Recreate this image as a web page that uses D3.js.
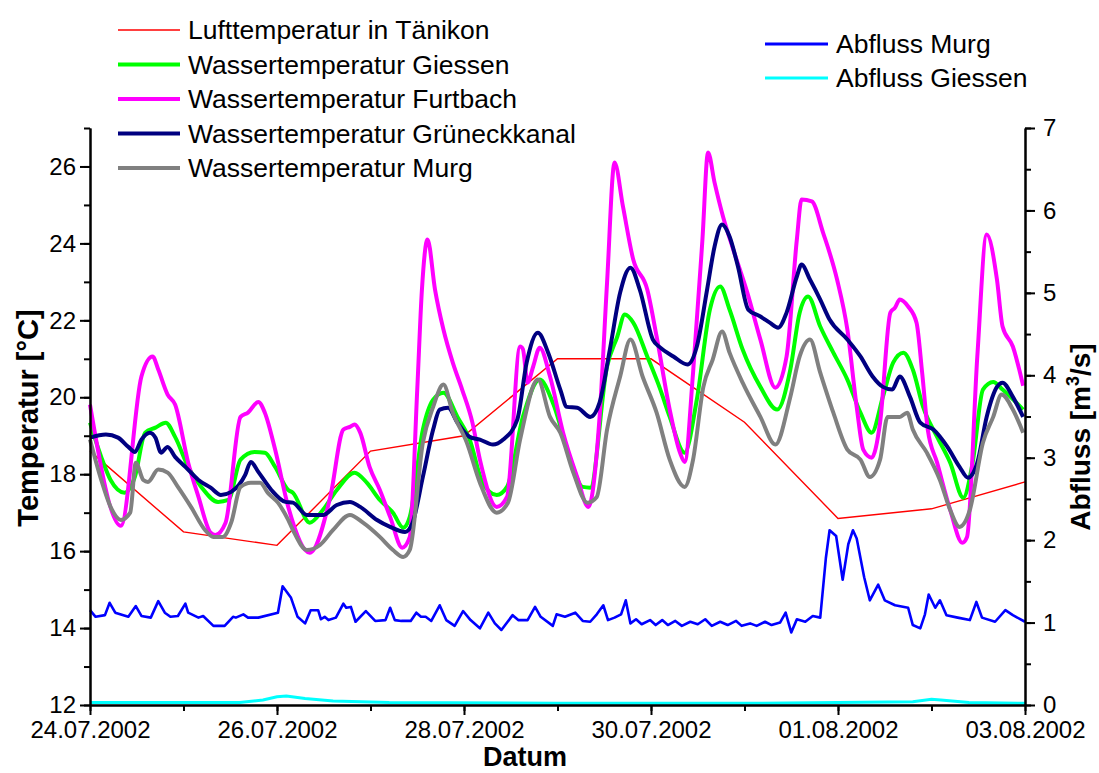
<!DOCTYPE html>
<html>
<head>
<meta charset="utf-8">
<script src="https://cdn.jsdelivr.net/npm/d3@7"></script>
<style>
  body { margin: 0; background: #fff; }
  svg { font-family: "Liberation Sans", Arial, sans-serif; }
</style>
</head>
<body>
<svg id="chart" width="1099" height="773"></svg>
<script>
// days after 24.07.2002 00:00, value
var luftTaenikon = [[0,18.6],[1,16.5],[2,16.15],[3,18.6],[4,19.0],[5,21.0],[6,21.0],[7,19.35],[8,16.85],[9,17.1],[10,17.8]];

var wtGiessen = [[0,19.34],[0.12,18.45],[0.22,17.85],[0.37,17.52],[0.48,17.93],[0.59,19.08],[0.7,19.21],[0.81,19.34],[0.91,18.97],[1.05,18.19],[1.19,17.67],[1.37,17.28],[1.48,17.33],[1.61,18.38],[1.76,18.58],[1.87,18.56],[1.98,18.19],[2.12,17.59],[2.17,17.52],[2.35,16.74],[2.49,17.07],[2.64,17.59],[2.83,18.04],[2.96,17.78],[3.1,17.33],[3.24,17.0],[3.35,16.61],[3.42,16.89],[3.56,19.16],[3.67,19.94],[3.78,20.12],[3.93,19.49],[4.06,18.9],[4.2,17.78],[4.35,17.46],[4.46,17.67],[4.63,19.49],[4.81,20.46],[4.95,19.86],[5.13,18.45],[5.27,17.67],[5.35,17.65],[5.53,20.8],[5.64,21.58],[5.72,22.15],[5.81,21.94],[5.96,21.06],[6.1,20.2],[6.2,19.49],[6.36,18.56],[6.49,19.94],[6.63,22.28],[6.74,22.88],[6.84,22.28],[6.98,21.24],[7.17,20.27],[7.35,19.68],[7.49,20.72],[7.59,22.2],[7.68,22.62],[7.81,21.84],[7.95,21.16],[8.1,20.46],[8.24,19.6],[8.36,19.08],[8.48,20.01],[8.59,20.9],[8.7,21.16],[8.8,20.72],[8.91,19.75],[9.06,18.97],[9.2,18.3],[9.34,17.39],[9.44,18.3],[9.55,20.2],[9.66,20.4],[9.76,20.2],[9.98,19.68]];

var wtFurtbach = [[0,19.81],[0.33,16.66],[0.55,20.54],[0.67,21.06],[0.73,20.72],[0.83,20.07],[0.91,19.81],[1.05,18.3],[1.16,17.41],[1.29,16.48],[1.34,16.42],[1.45,16.74],[1.61,19.49],[1.69,19.6],[1.8,19.88],[1.87,19.6],[1.98,18.64],[2.12,17.15],[2.35,15.96],[2.57,17.41],[2.71,19.16],[2.78,19.23],[2.83,19.29],[2.89,19.08],[2.99,18.19],[3.1,17.59],[3.21,16.89],[3.34,16.09],[3.42,16.37],[3.5,20.2],[3.55,22.8],[3.61,24.1],[3.69,22.8],[3.78,21.76],[3.88,20.9],[3.98,20.2],[4.09,19.34],[4.17,18.38],[4.35,17.15],[4.46,17.41],[4.6,21.32],[4.63,21.25],[4.68,20.38],[4.74,20.8],[4.81,21.29],[4.92,20.54],[5.06,19.08],[5.21,17.93],[5.33,17.15],[5.45,19.49],[5.53,22.98],[5.61,26.1],[5.7,24.96],[5.81,23.58],[5.96,22.8],[6.06,21.58],[6.2,19.68],[6.31,18.56],[6.36,18.32],[6.45,20.64],[6.55,24.1],[6.61,26.36],[6.68,25.58],[6.77,24.7],[6.88,23.84],[7.03,22.72],[7.17,21.5],[7.33,20.25],[7.45,21.06],[7.56,24.1],[7.61,25.14],[7.72,25.09],[7.84,24.28],[7.99,23.06],[8.1,21.76],[8.2,19.75],[8.27,18.64],[8.36,18.43],[8.45,19.34],[8.56,22.2],[8.61,22.33],[8.66,22.54],[8.75,22.36],[8.84,21.94],[8.9,20.64],[8.96,19.16],[9.06,18.3],[9.2,17.07],[9.33,16.22],[9.38,16.37],[9.49,21.06],[9.59,24.23],[9.7,23.06],[9.76,21.84],[9.87,21.32],[9.98,20.3]];

var wtGrueneck = [[0,18.95],[0.17,19.03],[0.3,18.95],[0.41,18.71],[0.48,18.58],[0.55,18.9],[0.64,19.08],[0.7,18.95],[0.76,18.56],[0.83,18.71],[0.91,18.45],[1.02,18.19],[1.16,17.85],[1.29,17.65],[1.4,17.46],[1.51,17.54],[1.66,17.98],[1.72,18.32],[1.8,18.06],[1.94,17.59],[2.09,17.28],[2.17,17.26],[2.32,16.94],[2.49,16.94],[2.64,17.2],[2.78,17.28],[2.89,17.15],[3.07,16.81],[3.21,16.63],[3.37,16.5],[3.45,16.74],[3.56,17.93],[3.67,19.16],[3.74,19.68],[3.83,19.73],[3.93,19.34],[4.06,18.97],[4.17,18.9],[4.31,18.77],[4.42,18.9],[4.57,19.42],[4.67,20.9],[4.79,21.68],[4.9,21.16],[5.03,20.2],[5.1,19.75],[5.21,19.73],[5.35,19.49],[5.45,19.86],[5.56,21.24],[5.67,22.72],[5.78,23.37],[5.88,22.8],[6.02,21.5],[6.1,21.29],[6.24,21.06],[6.39,20.85],[6.49,21.32],[6.6,22.8],[6.68,23.92],[6.76,24.49],[6.84,24.18],[6.93,23.4],[7.04,22.28],[7.17,22.1],[7.27,21.94],[7.36,21.81],[7.45,22.2],[7.56,23.14],[7.61,23.45],[7.7,23.06],[7.81,22.54],[7.91,22.02],[8.1,21.5],[8.24,21.06],[8.37,20.54],[8.48,20.27],[8.58,20.2],[8.66,20.54],[8.77,20.01],[8.88,19.34],[9.02,19.16],[9.17,18.71],[9.3,18.19],[9.39,17.91],[9.49,18.3],[9.59,19.49],[9.7,20.27],[9.76,20.38],[9.87,20.01],[9.98,19.49]];

var wtMurg = [[0,18.9],[0.12,17.85],[0.22,17.15],[0.33,16.81],[0.43,17.0],[0.49,18.3],[0.57,17.85],[0.62,17.8],[0.73,18.12],[0.83,18.04],[0.94,17.67],[1.08,17.15],[1.23,16.55],[1.32,16.37],[1.42,16.37],[1.51,16.74],[1.61,17.67],[1.72,17.78],[1.82,17.78],[1.9,17.52],[2.01,17.26],[2.12,16.81],[2.17,16.55],[2.32,16.03],[2.46,16.16],[2.6,16.55],[2.78,16.94],[2.92,16.74],[3.1,16.37],[3.24,16.03],[3.35,15.85],[3.42,16.03],[3.56,18.82],[3.67,19.75],[3.78,20.33],[3.88,19.6],[4.03,18.82],[4.17,17.78],[4.35,17.0],[4.47,17.26],[4.6,18.9],[4.79,20.46],[4.92,19.49],[5.03,19.08],[5.17,18.04],[5.32,17.26],[5.42,17.41],[5.53,19.16],[5.67,20.54],[5.78,21.5],[5.91,20.54],[6.06,19.6],[6.2,18.38],[6.36,17.67],[6.45,18.38],[6.56,20.27],[6.66,20.98],[6.76,21.71],[6.84,21.16],[6.98,20.38],[7.17,19.49],[7.33,18.77],[7.49,20.01],[7.59,21.06],[7.7,21.5],[7.81,20.64],[7.95,19.6],[8.1,18.64],[8.24,18.38],[8.34,17.93],[8.45,18.38],[8.53,19.49],[8.66,19.49],[8.74,19.6],[8.8,19.16],[8.95,18.56],[9.09,17.85],[9.2,17.07],[9.3,16.63],[9.41,17.07],[9.55,18.82],[9.66,19.49],[9.75,20.07],[9.87,19.68],[9.98,19.08]];

var abflussMurg = [[0,1.15],[0.06,1.07],[0.16,1.09],[0.21,1.24],[0.27,1.12],[0.41,1.07],[0.49,1.2],[0.55,1.08],[0.65,1.06],[0.73,1.26],[0.8,1.12],[0.86,1.07],[0.94,1.08],[1.02,1.23],[1.05,1.12],[1.16,1.06],[1.21,1.08],[1.32,0.96],[1.44,0.96],[1.53,1.07],[1.56,1.06],[1.64,1.1],[1.69,1.06],[1.8,1.06],[2.01,1.12],[2.06,1.44],[2.15,1.3],[2.22,1.07],[2.3,0.99],[2.36,1.15],[2.44,1.15],[2.47,1.04],[2.51,1.07],[2.55,1.03],[2.63,1.06],[2.71,1.23],[2.74,1.18],[2.79,1.19],[2.84,1.01],[2.95,1.14],[3.05,1.02],[3.16,1.03],[3.21,1.18],[3.26,1.03],[3.33,1.02],[3.43,1.02],[3.49,1.12],[3.54,1.07],[3.59,1.07],[3.65,1.02],[3.74,1.21],[3.81,1.03],[3.9,0.96],[3.99,1.14],[4.07,1.03],[4.17,0.93],[4.26,1.12],[4.33,0.99],[4.4,0.91],[4.52,1.09],[4.58,1.03],[4.68,1.03],[4.76,1.19],[4.82,1.07],[4.95,0.96],[4.99,1.1],[5.08,1.07],[5.19,1.12],[5.27,1.02],[5.35,1.01],[5.42,1.1],[5.49,1.21],[5.54,1.03],[5.61,1.06],[5.68,1.1],[5.73,1.27],[5.78,0.99],[5.84,1.04],[5.9,0.98],[5.99,1.03],[6.05,0.97],[6.12,1.03],[6.18,0.97],[6.26,1.02],[6.33,0.96],[6.42,1.01],[6.5,0.98],[6.58,1.04],[6.65,0.96],[6.74,1.01],[6.82,0.97],[6.91,1.02],[6.97,0.96],[7.06,0.99],[7.13,0.96],[7.22,1.01],[7.29,0.97],[7.38,1.0],[7.44,1.12],[7.5,0.88],[7.56,1.04],[7.65,1.01],[7.73,1.08],[7.81,1.06],[7.87,1.78],[7.91,2.12],[7.98,2.05],[8.05,1.52],[8.11,1.95],[8.16,2.12],[8.2,2.02],[8.28,1.55],[8.34,1.27],[8.43,1.46],[8.5,1.27],[8.61,1.21],[8.75,1.18],[8.8,0.97],[8.88,0.93],[8.93,1.1],[8.97,1.34],[9.04,1.18],[9.09,1.27],[9.16,1.09],[9.28,1.06],[9.41,1.03],[9.48,1.25],[9.54,1.06],[9.68,1.01],[9.79,1.15],[9.87,1.09],[10,1.01]];

var abflussGiessen = [[0,0.03],[1.6,0.03],[1.85,0.06],[2.0,0.1],[2.1,0.11],[2.3,0.08],[2.6,0.05],[3.2,0.03],[5,0.02],[7,0.02],[8,0.03],[8.8,0.04],[9.0,0.07],[9.1,0.06],[9.4,0.03],[10,0.02]];

var tempTicks = [12, 14, 16, 18, 20, 22, 24, 26];
var abflussTicks = [0, 1, 2, 3, 4, 5, 6, 7];
var dateTicks = ["24.07.2002", "26.07.2002", "28.07.2002", "30.07.2002", "01.08.2002", "03.08.2002"];

var start = Date.UTC(2002, 6, 24);
function toDate(d) { return new Date(start + d * 864e5); }
var parseDay = d3.utcParse("%d.%m.%Y");
var fmtDay = d3.utcFormat("%d.%m.%Y");

var svg = d3.select("#chart");
var plotLeft = 90, plotRight = 1025, plotTop = 128, plotBottom = 705;

var x = d3.scaleUtc().domain([toDate(0), toDate(10)]).range([plotLeft, plotRight]);
var yT = d3.scaleLinear().domain([12, 27]).range([plotBottom, plotTop]);
var yQ = d3.scaleLinear().domain([0, 7]).range([plotBottom, plotTop]);

var lineT = d3.line().x(function(d) { return x(toDate(d[0])); }).y(function(d) { return yT(d[1]); });
var lineQ = d3.line().x(function(d) { return x(toDate(d[0])); }).y(function(d) { return yQ(d[1]); });
var smoothT = d3.line().curve(d3.curveMonotoneX).x(function(d) { return x(toDate(d[0])); }).y(function(d) { return yT(d[1]); });

// series
svg.append("path").attr("d", lineQ(abflussGiessen)).attr("fill", "none").attr("stroke", "#00ffff").attr("stroke-width", 3);
svg.append("path").attr("d", lineQ(abflussMurg)).attr("fill", "none").attr("stroke", "#0000ff").attr("stroke-width", 2.6).attr("stroke-linejoin", "round");
svg.append("path").attr("d", lineT(luftTaenikon)).attr("fill", "none").attr("stroke", "#ff0000").attr("stroke-width", 1.4);

var tempSeries = [
  {data: wtGiessen, color: "#00ff00"},
  {data: wtFurtbach, color: "#ff00ff"},
  {data: wtGrueneck, color: "#000080"},
  {data: wtMurg, color: "#808080"}
];
tempSeries.forEach(function(s) {
  svg.append("path").attr("d", smoothT(s.data)).attr("fill", "none")
    .attr("stroke", s.color).attr("stroke-width", 4).attr("stroke-linejoin", "round");
});

// axes
function styleAxis(g) {
  g.select(".domain").attr("stroke", "#000").attr("stroke-width", 2);
  g.selectAll(".tick line").attr("stroke", "#000").attr("stroke-width", 2);
  g.selectAll("text").attr("fill", "#000").style("font-size", "24px").style("font-family", "Liberation Sans, Arial, sans-serif");
}

var minorT = d3.range(12, 28, 1);
svg.append("g").attr("transform", "translate(" + plotLeft + ",0)")
  .call(d3.axisLeft(yT).tickValues(minorT).tickSize(6).tickFormat("").tickSizeOuter(0)).call(styleAxis);
svg.append("g").attr("transform", "translate(" + plotLeft + ",0)")
  .call(d3.axisLeft(yT).tickValues(tempTicks).tickSize(10).tickPadding(4).tickFormat(d3.format("d")).tickSizeOuter(0)).call(styleAxis);

var minorQ = d3.range(0, 7.01, 0.5);
svg.append("g").attr("transform", "translate(" + plotRight + ",0)")
  .call(d3.axisRight(yQ).tickValues(minorQ).tickSize(6).tickFormat("").tickSizeOuter(0)).call(styleAxis);
svg.append("g").attr("transform", "translate(" + plotRight + ",0)")
  .call(d3.axisRight(yQ).tickValues(abflussTicks).tickSize(10).tickPadding(8).tickFormat(d3.format("d")).tickSizeOuter(0)).call(styleAxis);

var minorX = d3.range(0, 11).map(toDate);
svg.append("g").attr("transform", "translate(0," + plotBottom + ")")
  .call(d3.axisBottom(x).tickValues(minorX).tickSize(6).tickFormat("").tickSizeOuter(0)).call(styleAxis);
svg.append("g").attr("transform", "translate(0," + plotBottom + ")")
  .call(d3.axisBottom(x).tickValues(dateTicks.map(parseDay)).tickSize(10).tickPadding(6).tickFormat(fmtDay).tickSizeOuter(0)).call(styleAxis);

// axis titles
svg.append("text").attr("transform", "translate(38,418) rotate(-90)").attr("text-anchor", "middle")
  .style("font-size", "29px").style("font-weight", "bold").text("Temperatur [°C]");
var qTitle = svg.append("text").attr("transform", "translate(1090,437) rotate(-90)").attr("text-anchor", "middle")
  .style("font-size", "28px").style("font-weight", "bold");
qTitle.append("tspan").text("Abfluss [m");
qTitle.append("tspan").attr("dy", -11).style("font-size", "18px").text("3");
qTitle.append("tspan").attr("dy", 11).text("/s]");
svg.append("text").attr("x", 525).attr("y", 766).attr("text-anchor", "middle")
  .style("font-size", "27px").style("font-weight", "bold").text("Datum");

// legends
var legendLeft = [
  {name: "Lufttemperatur in Tänikon", color: "#ff0000", w: 1.5},
  {name: "Wassertemperatur Giessen", color: "#00ff00", w: 4},
  {name: "Wassertemperatur Furtbach", color: "#ff00ff", w: 4},
  {name: "Wassertemperatur Grüneckkanal", color: "#000080", w: 4},
  {name: "Wassertemperatur Murg", color: "#808080", w: 4}
];
var legendRight = [
  {name: "Abfluss Murg", color: "#0000ff", w: 3},
  {name: "Abfluss Giessen", color: "#00ffff", w: 3}
];
function drawLegend(items, x0, x1, tx, y0, step) {
  var g = svg.append("g");
  items.forEach(function(it, i) {
    var yy = y0 + i * step;
    g.append("line").attr("x1", x0).attr("x2", x1).attr("y1", yy).attr("y2", yy)
      .attr("stroke", it.color).attr("stroke-width", it.w);
    g.append("text").attr("x", tx).attr("y", yy).attr("dy", "0.35em")
      .style("font-size", "26.5px").text(it.name);
  });
}
drawLegend(legendLeft, 118, 180, 188, 30, 34.5);
drawLegend(legendRight, 765, 828, 836, 44, 34);
</script>
</body>
</html>
